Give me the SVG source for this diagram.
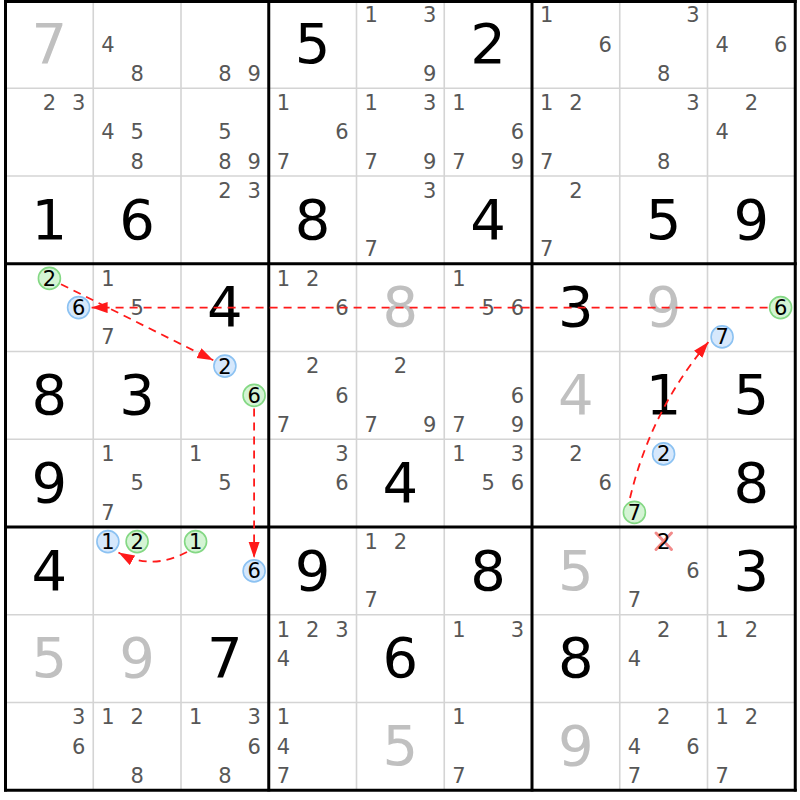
<svg xmlns="http://www.w3.org/2000/svg" width="800" height="800" viewBox="0 0 800 800">
<style>
text{font-family:"DejaVu Sans","Verdana",sans-serif;text-anchor:middle}
.b{font-size:56px;fill:#000}
.g{font-size:56px;fill:#c0c0c0}
.p{font-size:21px;fill:#575757}
.c{font-size:21px;fill:#000}
.thin{stroke:#d4d4d4;stroke-width:1.6}
.thick{stroke:#000;stroke-width:3}
.cg{fill:#d4f4d4;stroke:#84d884;stroke-width:1.6}
.cb{fill:#d6e8fc;stroke:#8cc2f2;stroke-width:1.6}
.arr{fill:none;stroke:#ff1a1a;stroke-width:1.8;stroke-dasharray:8 6}
.x{stroke:#f28b8b;stroke-width:3;stroke-linecap:round}
</style>
<defs>
<marker id="ah" markerUnits="userSpaceOnUse" markerWidth="17" markerHeight="12" refX="16" refY="5.5" orient="auto">
<path d="M0,0 L16,5.5 L0,11 z" fill="#ff1a1a"/>
</marker>
</defs>
<rect x="0" y="0" width="800" height="800" fill="#fff"/>
<g id="grid">
<g class="thin">
<line x1="93.25" y1="0.5" x2="93.25" y2="790.25"/>
<line x1="181" y1="0.5" x2="181" y2="790.25"/>
<line x1="356.5" y1="0.5" x2="356.5" y2="790.25"/>
<line x1="444.25" y1="0.5" x2="444.25" y2="790.25"/>
<line x1="619.75" y1="0.5" x2="619.75" y2="790.25"/>
<line x1="707.5" y1="0.5" x2="707.5" y2="790.25"/>
<line x1="5.5" y1="88.25" x2="795.25" y2="88.25"/>
<line x1="5.5" y1="176" x2="795.25" y2="176"/>
<line x1="5.5" y1="351.5" x2="795.25" y2="351.5"/>
<line x1="5.5" y1="439.25" x2="795.25" y2="439.25"/>
<line x1="5.5" y1="614.75" x2="795.25" y2="614.75"/>
<line x1="5.5" y1="702.5" x2="795.25" y2="702.5"/>
</g>
<g class="thick">
<line x1="5.5" y1="0" x2="5.5" y2="791.5"/>
<line x1="268.75" y1="0" x2="268.75" y2="791.5"/>
<line x1="532" y1="0" x2="532" y2="791.5"/>
<line x1="795.25" y1="0" x2="795.25" y2="791.5"/>
<line x1="4" y1="1.5" x2="796.75" y2="1.5"/>
<line x1="4" y1="263.75" x2="796.75" y2="263.75"/>
<line x1="4" y1="527" x2="796.75" y2="527"/>
<line x1="4" y1="790.25" x2="796.75" y2="790.25"/>
</g>
</g>
<g id="r0c0"><text class="g" x="49.4" y="63">7</text></g>
<g id="r0c1"><text class="p" x="107.9" y="51.7">4</text><text class="p" x="137.1" y="80.9">8</text></g>
<g id="r0c2"><text class="p" x="224.9" y="80.9">8</text><text class="p" x="254.1" y="80.9">9</text></g>
<g id="r0c3"><text class="b" x="312.6" y="63">5</text></g>
<g id="r0c4"><text class="p" x="371.1" y="22.4">1</text><text class="p" x="429.6" y="22.4">3</text><text class="p" x="429.6" y="80.9">9</text></g>
<g id="r0c5"><text class="b" x="488.1" y="63">2</text></g>
<g id="r0c6"><text class="p" x="546.6" y="22.4">1</text><text class="p" x="605.1" y="51.7">6</text></g>
<g id="r0c7"><text class="p" x="692.9" y="22.4">3</text><text class="p" x="663.6" y="80.9">8</text></g>
<g id="r0c8"><text class="p" x="722.1" y="51.7">4</text><text class="p" x="780.6" y="51.7">6</text></g>

<g id="r1c0"><text class="p" x="49.4" y="110.2">2</text><text class="p" x="78.6" y="110.2">3</text></g>
<g id="r1c1"><text class="p" x="107.9" y="139.4">4</text><text class="p" x="137.1" y="139.4">5</text><text class="p" x="137.1" y="168.7">8</text></g>
<g id="r1c2"><text class="p" x="224.9" y="139.4">5</text><text class="p" x="224.9" y="168.7">8</text><text class="p" x="254.1" y="168.7">9</text></g>
<g id="r1c3"><text class="p" x="283.4" y="110.2">1</text><text class="p" x="341.9" y="139.4">6</text><text class="p" x="283.4" y="168.7">7</text></g>
<g id="r1c4"><text class="p" x="371.1" y="110.2">1</text><text class="p" x="429.6" y="110.2">3</text><text class="p" x="371.1" y="168.7">7</text><text class="p" x="429.6" y="168.7">9</text></g>
<g id="r1c5"><text class="p" x="458.9" y="110.2">1</text><text class="p" x="517.4" y="139.4">6</text><text class="p" x="458.9" y="168.7">7</text><text class="p" x="517.4" y="168.7">9</text></g>
<g id="r1c6"><text class="p" x="546.6" y="110.2">1</text><text class="p" x="575.9" y="110.2">2</text><text class="p" x="546.6" y="168.7">7</text></g>
<g id="r1c7"><text class="p" x="692.9" y="110.2">3</text><text class="p" x="663.6" y="168.7">8</text></g>
<g id="r1c8"><text class="p" x="751.4" y="110.2">2</text><text class="p" x="722.1" y="139.4">4</text></g>

<g id="r2c0"><text class="b" x="49.4" y="238.5">1</text></g>
<g id="r2c1"><text class="b" x="137.1" y="238.5">6</text></g>
<g id="r2c2"><text class="p" x="224.9" y="197.9">2</text><text class="p" x="254.1" y="197.9">3</text></g>
<g id="r2c3"><text class="b" x="312.6" y="238.5">8</text></g>
<g id="r2c4"><text class="p" x="429.6" y="197.9">3</text><text class="p" x="371.1" y="256.4">7</text></g>
<g id="r2c5"><text class="b" x="488.1" y="238.5">4</text></g>
<g id="r2c6"><text class="p" x="575.9" y="197.9">2</text><text class="p" x="546.6" y="256.4">7</text></g>
<g id="r2c7"><text class="b" x="663.6" y="238.5">5</text></g>
<g id="r2c8"><text class="b" x="751.4" y="238.5">9</text></g>

<g id="r3c0"><circle class="cg" cx="49.4" cy="278.4" r="11"/><text class="c" x="49.4" y="285.9">2</text><circle class="cb" cx="78.6" cy="307.6" r="11"/><text class="c" x="78.6" y="315.1">6</text></g>
<g id="r3c1"><text class="p" x="107.9" y="285.7">1</text><text class="p" x="137.1" y="314.9">5</text><text class="p" x="107.9" y="344.2">7</text></g>
<g id="r3c2"><text class="b" x="224.9" y="326.25">4</text></g>
<g id="r3c3"><text class="p" x="283.4" y="285.7">1</text><text class="p" x="312.6" y="285.7">2</text><text class="p" x="341.9" y="314.9">6</text></g>
<g id="r3c4"><text class="g" x="400.4" y="326.25">8</text></g>
<g id="r3c5"><text class="p" x="458.9" y="285.7">1</text><text class="p" x="488.1" y="314.9">5</text><text class="p" x="517.4" y="314.9">6</text></g>
<g id="r3c6"><text class="b" x="575.9" y="326.25">3</text></g>
<g id="r3c7"><text class="g" x="663.6" y="326.25">9</text></g>
<g id="r3c8"><circle class="cg" cx="780.6" cy="307.6" r="11"/><text class="c" x="780.6" y="315.1">6</text><circle class="cb" cx="722.1" cy="336.9" r="11"/><text class="c" x="722.1" y="344.4">7</text></g>

<g id="r4c0"><text class="b" x="49.4" y="414">8</text></g>
<g id="r4c1"><text class="b" x="137.1" y="414">3</text></g>
<g id="r4c2"><circle class="cb" cx="224.9" cy="366.1" r="11"/><text class="c" x="224.9" y="373.6">2</text><circle class="cg" cx="254.1" cy="395.4" r="11"/><text class="c" x="254.1" y="402.9">6</text></g>
<g id="r4c3"><text class="p" x="312.6" y="373.4">2</text><text class="p" x="341.9" y="402.7">6</text><text class="p" x="283.4" y="431.9">7</text></g>
<g id="r4c4"><text class="p" x="400.4" y="373.4">2</text><text class="p" x="371.1" y="431.9">7</text><text class="p" x="429.6" y="431.9">9</text></g>
<g id="r4c5"><text class="p" x="517.4" y="402.7">6</text><text class="p" x="458.9" y="431.9">7</text><text class="p" x="517.4" y="431.9">9</text></g>
<g id="r4c6"><text class="g" x="575.9" y="414">4</text></g>
<g id="r4c7"><text class="b" x="663.6" y="414">1</text></g>
<g id="r4c8"><text class="b" x="751.4" y="414">5</text></g>

<g id="r5c0"><text class="b" x="49.4" y="501.75">9</text></g>
<g id="r5c1"><text class="p" x="107.9" y="461.2">1</text><text class="p" x="137.1" y="490.4">5</text><text class="p" x="107.9" y="519.7">7</text></g>
<g id="r5c2"><text class="p" x="195.6" y="461.2">1</text><text class="p" x="224.9" y="490.4">5</text></g>
<g id="r5c3"><text class="p" x="341.9" y="461.2">3</text><text class="p" x="341.9" y="490.4">6</text></g>
<g id="r5c4"><text class="b" x="400.4" y="501.75">4</text></g>
<g id="r5c5"><text class="p" x="458.9" y="461.2">1</text><text class="p" x="517.4" y="461.2">3</text><text class="p" x="488.1" y="490.4">5</text><text class="p" x="517.4" y="490.4">6</text></g>
<g id="r5c6"><text class="p" x="575.9" y="461.2">2</text><text class="p" x="605.1" y="490.4">6</text></g>
<g id="r5c7"><circle class="cb" cx="663.6" cy="453.9" r="11"/><text class="c" x="663.6" y="461.4">2</text><circle class="cg" cx="634.4" cy="512.4" r="11"/><text class="c" x="634.4" y="519.9">7</text></g>
<g id="r5c8"><text class="b" x="751.4" y="501.75">8</text></g>

<g id="r6c0"><text class="b" x="49.4" y="589.5">4</text></g>
<g id="r6c1"><circle class="cb" cx="107.9" cy="541.6" r="11"/><text class="c" x="107.9" y="549.1">1</text><circle class="cg" cx="137.1" cy="541.6" r="11"/><text class="c" x="137.1" y="549.1">2</text></g>
<g id="r6c2"><circle class="cg" cx="195.6" cy="541.6" r="11"/><text class="c" x="195.6" y="549.1">1</text><circle class="cb" cx="254.1" cy="570.9" r="11"/><text class="c" x="254.1" y="578.4">6</text></g>
<g id="r6c3"><text class="b" x="312.6" y="589.5">9</text></g>
<g id="r6c4"><text class="p" x="371.1" y="548.9">1</text><text class="p" x="400.4" y="548.9">2</text><text class="p" x="371.1" y="607.4">7</text></g>
<g id="r6c5"><text class="b" x="488.1" y="589.5">8</text></g>
<g id="r6c6"><text class="g" x="575.9" y="589.5">5</text></g>
<g id="r6c7"><line class="x" x1="656" y1="533" x2="671.5" y2="549.5"/><line class="x" x1="671.5" y1="533" x2="656" y2="549.5"/><text class="c" x="663.6" y="548.9">2</text><text class="p" x="692.9" y="578.2">6</text><text class="p" x="634.4" y="607.4">7</text></g>
<g id="r6c8"><text class="b" x="751.4" y="589.5">3</text></g>

<g id="r7c0"><text class="g" x="49.4" y="677.25">5</text></g>
<g id="r7c1"><text class="g" x="137.1" y="677.25">9</text></g>
<g id="r7c2"><text class="b" x="224.9" y="677.25">7</text></g>
<g id="r7c3"><text class="p" x="283.4" y="636.7">1</text><text class="p" x="312.6" y="636.7">2</text><text class="p" x="341.9" y="636.7">3</text><text class="p" x="283.4" y="665.9">4</text></g>
<g id="r7c4"><text class="b" x="400.4" y="677.25">6</text></g>
<g id="r7c5"><text class="p" x="458.9" y="636.7">1</text><text class="p" x="517.4" y="636.7">3</text></g>
<g id="r7c6"><text class="b" x="575.9" y="677.25">8</text></g>
<g id="r7c7"><text class="p" x="663.6" y="636.7">2</text><text class="p" x="634.4" y="665.9">4</text></g>
<g id="r7c8"><text class="p" x="722.1" y="636.7">1</text><text class="p" x="751.4" y="636.7">2</text></g>

<g id="r8c0"><text class="p" x="78.6" y="724.4">3</text><text class="p" x="78.6" y="753.7">6</text></g>
<g id="r8c1"><text class="p" x="107.9" y="724.4">1</text><text class="p" x="137.1" y="724.4">2</text><text class="p" x="137.1" y="782.9">8</text></g>
<g id="r8c2"><text class="p" x="195.6" y="724.4">1</text><text class="p" x="254.1" y="724.4">3</text><text class="p" x="254.1" y="753.7">6</text><text class="p" x="224.9" y="782.9">8</text></g>
<g id="r8c3"><text class="p" x="283.4" y="724.4">1</text><text class="p" x="283.4" y="753.7">4</text><text class="p" x="283.4" y="782.9">7</text></g>
<g id="r8c4"><text class="g" x="400.4" y="765">5</text></g>
<g id="r8c5"><text class="p" x="458.9" y="724.4">1</text><text class="p" x="458.9" y="782.9">7</text></g>
<g id="r8c6"><text class="g" x="575.9" y="765">9</text></g>
<g id="r8c7"><text class="p" x="663.6" y="724.4">2</text><text class="p" x="634.4" y="753.7">4</text><text class="p" x="692.9" y="753.7">6</text><text class="p" x="634.4" y="782.9">7</text></g>
<g id="r8c8"><text class="p" x="722.1" y="724.4">1</text><text class="p" x="751.4" y="724.4">2</text><text class="p" x="722.1" y="782.9">7</text></g>

<g id="connectors">
<line class="arr" x1="61" y1="284.2" x2="213.3" y2="360.3" marker-end="url(#ah)"/>
<line class="arr" x1="767.6" y1="307.6" x2="91.6" y2="307.6" marker-end="url(#ah)"/>
<line class="arr" x1="254.1" y1="408.4" x2="254.1" y2="557.9" marker-end="url(#ah)"/>
<path class="arr" d="M187,552 Q151.5,571 118.5,552.5" marker-end="url(#ah)"/>
<path class="arr" d="M630,498 Q651,410 708.5,342" marker-end="url(#ah)"/>
</g>
</svg>
